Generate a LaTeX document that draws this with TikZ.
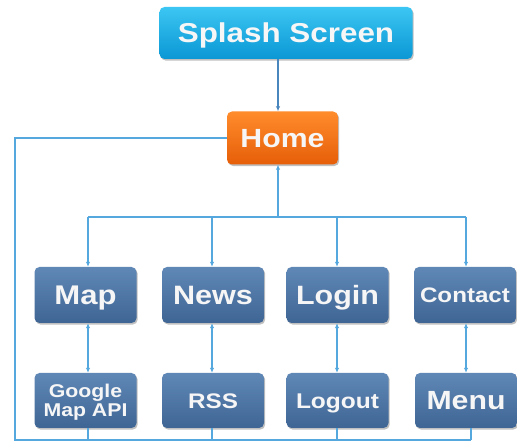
\documentclass[tikz,border=0pt]{standalone}
\usepackage{fontspec}
\setmainfont{Liberation Sans}
\usetikzlibrary{arrows.meta,shadows}
\definecolor{cyanT}{HTML}{3CC6F3}
\definecolor{cyanB}{HTML}{0A97D4}
\definecolor{oranT}{HTML}{FF8C2C}
\definecolor{oranB}{HTML}{E65E08}
\definecolor{blueT}{HTML}{6088B6}
\definecolor{blueB}{HTML}{3E6594}
\definecolor{frameC}{HTML}{55A8DE}
\definecolor{arrowC}{HTML}{4A86BE}
\definecolor{txtC}{HTML}{F6F6F6}
\newcommand\lbl[2]{\scalebox{1.15}[1]{\fontsize{#1pt}{#1pt}\selectfont\bfseries\rule{0pt}{0.716em}\smash{#2}}}
\begin{document}
\begin{tikzpicture}[x=1pt,y=-1pt,
  box/.style={rounded corners=5pt, inner sep=0pt, text=txtC,
    drop shadow={shadow xshift=1.2pt,shadow yshift=-1.6pt,opacity=0.35,fill=black!70}},
  splashbox/.style={box, top color=cyanT, bottom color=cyanB},
  homebox/.style={box, top color=oranT, bottom color=oranB},
  bluebox/.style={box, top color=blueT, bottom color=blueB, minimum width=102pt},
  toprow/.style={bluebox, minimum height=56pt},
  botrow/.style={bluebox, minimum height=55pt},
  frame/.style={draw=frameC, line width=1.4pt},
  conn/.style={draw=arrowC, line width=1.2pt},
  tip/.tip={Latex[length=5pt,width=4.5pt]}
]
\useasboundingbox (0,0) rectangle (517,443);
\fill[white] (0,0) rectangle (517,443);

% nodes
\node[splashbox, minimum width=253pt, minimum height=52pt] (splash) at (286,33) {\lbl{27.3}{Splash Screen}};
\node[homebox, minimum width=111pt, minimum height=53pt] (home) at (282.5,138) {\lbl{26.3}{Home}};

\node[toprow] (map) at (85.5,295) {\lbl{27}{Map}};
\node[toprow] (news) at (213,295) {\lbl{26.6}{News}};
\node[toprow] (login) at (337.5,295) {\lbl{26.5}{Login}};
\node[toprow] (contact) at (465,295) {\lbl{21}{Contact}};

\node[botrow] (google) at (85.5,400.5) {\scalebox{1.15}[1]{\fontsize{18.5pt}{19.5pt}\selectfont\bfseries\raisebox{0pt}[32.7pt][0pt]{\begin{tabular}[b]{@{}c@{}}Google\\Map API\end{tabular}}}};
\node[botrow] (rss) at (213,400.5) {\lbl{21.1}{RSS}};
\node[botrow] (logout) at (337.5,400.5) {\lbl{21.3}{Logout}};
\node[botrow] (menu) at (466,400.5) {\lbl{26.3}{Menu}};

% helper coordinates
\coordinate (ax) at (278,0);
\coordinate (cA) at (88,0);
\coordinate (cB) at (212,0);
\coordinate (cC) at (337,0);
\coordinate (cD) at (466,0);
\coordinate (cE) at (471,0);
\coordinate (busM) at (278,217);
\coordinate (busL) at (88,217);
\coordinate (busR) at (466,217);
\coordinate (lb) at (15,440);
\coordinate (rb) at (471,440);

% splash -> home
\draw[conn,-tip] (splash.south -| ax) -- (home.north -| ax);

% bus to home and to top row
\draw[frame] (busL) -- (busR);
\draw[frame,-tip] (busM) -- (home.south -| ax);
\draw[frame,-tip] (busL) -- (map.north -| cA);
\draw[frame,-tip] (busM -| cB) -- (news.north -| cB);
\draw[frame,-tip] (busM -| cC) -- (login.north -| cC);
\draw[frame,-tip] (busR) -- (contact.north -| cD);

% double arrows between rows
\draw[frame,tip-tip] (map.south -| cA) -- (google.north -| cA);
\draw[frame,tip-tip] (news.south -| cB) -- (rss.north -| cB);
\draw[frame,tip-tip] (login.south -| cC) -- (logout.north -| cC);
\draw[frame,tip-tip] (contact.south -| cD) -- (menu.north -| cD);

% outer loop back to home
\draw[frame] (home.west) -| (lb) -- (rb);
\draw[frame] (google.south -| cA) -- (cA |- lb);
\draw[frame] (rss.south -| cB) -- (cB |- lb);
\draw[frame] (logout.south -| cC) -- (cC |- lb);
\draw[frame] (menu.south -| cE) -- (rb);
\end{tikzpicture}
\end{document}
